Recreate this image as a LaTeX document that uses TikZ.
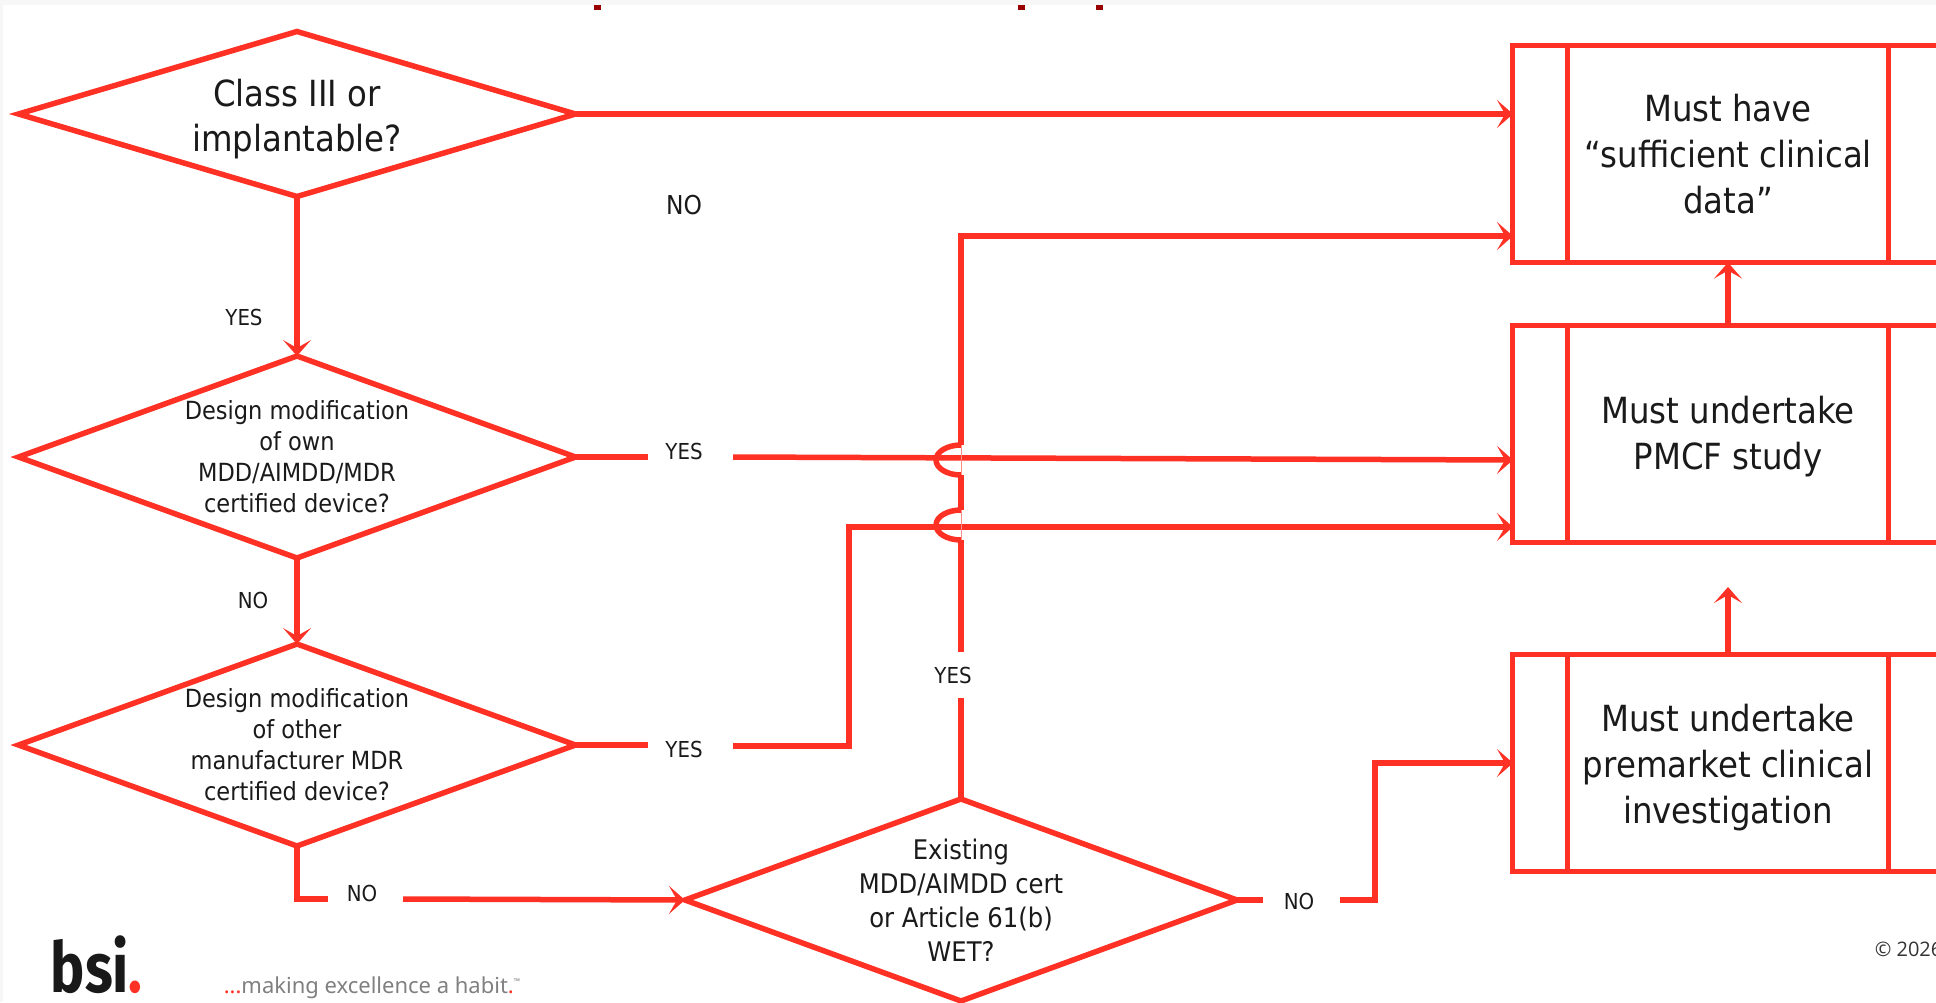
\documentclass[tikz,border=0pt]{standalone}
\usepackage{fontspec}
\usepackage{xcolor}
\setmainfont{DejaVu Sans Condensed}
\newfontfamily\logofont{Fira Sans}
\newfontfamily\copyfont{Open Sans}
\newfontfamily\tagfont{Noto Sans}
\usetikzlibrary{positioning, arrows.meta, calc, shapes.geometric}
\definecolor{bsired}{HTML}{FF3125}
\definecolor{inktext}{HTML}{1A1A1A}
\newcommand{\dropline}[1]{\rule{0pt}{#1}}

\begin{document}
\begin{tikzpicture}[
  x=1pt, y=-1pt,
  line width=5.5pt,
  dec/.style={diamond, draw=bsired, line width=5.5pt, align=center, inner sep=0pt, outer sep=0pt,
              aspect=2.76, minimum width=557pt, minimum height=202pt, text=inktext,
              font=\fontsize{25}{31}\selectfont},
  proc/.style={rectangle, draw=bsired, line width=5.5pt, align=center, inner sep=0pt, outer sep=0pt,
               minimum width=431pt, minimum height=217pt, text=inktext,
               font=\fontsize{36}{46}\selectfont,
               path picture={\draw[bsired, line width=5.5pt]
                 ($(path picture bounding box.north west)+(55,0)$) -- ($(path picture bounding box.south west)+(55,0)$)
                 ($(path picture bounding box.north east)+(-55,0)$) -- ($(path picture bounding box.south east)+(-55,0)$);}},
  ans/.style={inner sep=0pt, outer sep=0pt, text=inktext, minimum height=46pt,
              font=\fontsize{22}{26}\selectfont},
  fl/.style={-{Stealth[length=16pt, width=28pt, inset=8pt]}, bsired, line width=5.5pt},
  ln/.style={bsired, line width=5.5pt},
]
% --- page edge ---
\fill[black!3] (0,0) rectangle (1936,5);
\fill[black!3] (0,0) rectangle (3,1002);
\useasboundingbox (0,0) rectangle (1936,1002);
% --- cut-off title remains ---
\fill[red!60!black] (594,5) rectangle (601,10);
\fill[red!60!black] (1018,5) rectangle (1025,10);
\fill[red!60!black] (1096,5) rectangle (1103,10);
% --- decisions ---
\node[dec, minimum height=165pt, aspect=3.4, font=\fontsize{36}{45}\selectfont] (D1) at (297,114) {\dropline{37pt}Class III or\\implantable?};
\node[dec] (D2) at (297,457) {Design modification\\of own\\MDD/AIMDD/MDR\\certified device?};
\node[dec] (D3) at (297,745) {Design modification\\of other\\manufacturer MDR\\certified device?};
\node[dec, minimum width=552pt, font=\fontsize{27}{34}\selectfont] (D4) at (961,900) {Existing\\MDD/AIMDD cert\\or Article 61(b)\\WET?};
% --- outcome boxes ---
\node[proc] (B1) at (1728,154) {Must have\\``sufficient clinical\\data''};
\node[proc] (B2) at (1728,434) {\dropline{33pt}Must undertake\\PMCF study};
\node[proc] (B3) at (1728,763) {\dropline{36pt}Must undertake\\premarket clinical\\investigation};
% --- answers ---
\node[ans] (Yd1) at (244,317) {YES};
\node[ans, font=\fontsize{26}{30}\selectfont] (Nd1) at (684,205) {NO};
\node[ans, minimum width=72pt] (Yd2) at (684,451) {YES};
\node[ans] (Nd2) at (253,600) {NO};
\node[ans, minimum width=72pt] (Yd3) at (684,749) {YES};
\node[ans, minimum width=68pt] (Nd3) at (362,893) {NO};
\node[ans, minimum width=72pt] (Nd4) at (1299,901) {NO};
\node[ans] (Yd4) at (953,675) {YES};
% --- helper points ---
\coordinate (B1a) at (1513,114);
\coordinate (B1b) at (1513,236);
\coordinate (B2a) at (1513,460);
\coordinate (B2b) at (1513,527);
\coordinate (B3a) at (1513,763);
\coordinate (B2tip) at (1728,587);
\coordinate (jA) at (961,445);
\coordinate (jB) at (961,475);
\coordinate (jC) at (961,510);
\coordinate (jD) at (961,540);
\coordinate (Yd2r) at (733,457);
\coordinate (Yd3r) at (733,746);
\coordinate (Nd3r) at (403,899);
\coordinate (Nd4r) at (1340,900);
% --- flows ---
\draw[fl] (D1.east) -- (B1a);
\draw[fl] (D1.south) -- (D2.north);
\draw[fl] (D2.south) -- (D3.north);
\draw[ln] (D2.east) -- (D2.east -| Yd2.west);
\draw[fl] (Yd2r) -- (B2a);
\draw[ln] (D3.east) -- (D3.east -| Yd3.west);
\draw[fl] (Yd3r) -| (849,527) -- (B2b);
\draw[ln] (D3.south) |- (Nd3r -| Nd3.west);
\draw[fl] (Nd3r) -- (D4.west);
\draw[ln] (D4.east) -- (D4.east -| Nd4.west);
\draw[fl] (Nd4r) -| (1375,763) -- (B3a);
\draw[fl] (B2.north) -- (B1.south);
\draw[fl] (B3.north) -- (B2tip);
% YES branch with its two hops
\draw[ln] (D4.north) -- (D4.north |- 0,698);
\draw[ln] (D4.north |- 0,652) -- (jD);
\draw[ln] (jC) -- (jB);
\draw[fl] (jA) -- (961,236) -- (B1b);
\draw[ln] (jA) arc[start angle=90, end angle=270, x radius=25, y radius=-15];
\draw[ln] (jC) arc[start angle=90, end angle=270, x radius=25, y radius=-15];
\draw[bsired!55, line width=1pt] (jA) -- (jB) (jC) -- (jD);
% --- footer ---
\node[inner sep=0pt, anchor=base west, font=\logofont\bfseries\fontsize{70}{70}\selectfont, text=black!90] (logo) at (48,992) {\scalebox{0.82}[1]{bsi\textcolor{bsired}{.}}};
\node[inner sep=0pt, anchor=base west, font=\tagfont\fontsize{22}{26}\selectfont, text=black!50] (tag) at (221,993) {\textcolor{bsired}{...}making excellence a habit\textcolor{bsired}{.}\raisebox{9pt}{\fontsize{8}{8}\selectfont ™}};
\node[inner sep=0pt, anchor=west, font=\copyfont\fontsize{20}{24}\selectfont, text=black!80] (copy) at (1872,949) {© 2026};
\end{tikzpicture}
\end{document}
